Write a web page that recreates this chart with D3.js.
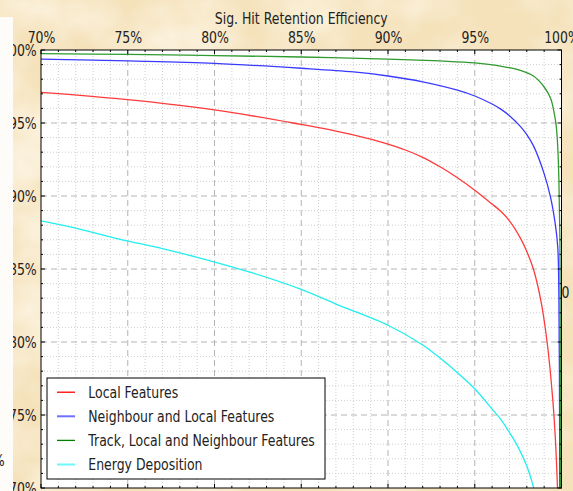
<!DOCTYPE html>
<html>
<head>
<meta charset="utf-8">
<script src="https://cdn.jsdelivr.net/npm/d3@7"></script>
<style>
  html, body { margin: 0; padding: 0; background: #f6e5c2; }
  svg { display: block; }
  text { font-family: "DejaVu Sans", sans-serif; fill: #222; }
</style>
</head>
<body>
<svg id="chart" width="573" height="491"></svg>
<script>
// Efficiency (%) vs background rejection (%) for each feature set
const localFeatures = [
  [70, 97.1], [75, 96.6], [80, 95.9], [85, 94.9], [87, 94.45], [89, 93.9],
  [90, 93.55], [91, 93.15], [92, 92.65], [93, 92.0], [94, 91.25], [95, 90.4],
  [96, 89.45], [96.5, 88.95], [97, 88.3], [97.64, 87.1], [98, 86.2],
  [98.38, 85.0], [98.8, 82.9], [99.17, 80.0], [99.5, 76.0], [99.65, 73.3],
  [99.77, 70.0]
];
const neighbourLocal = [
  [70, 99.38], [75, 99.25], [80, 99.08], [85, 98.75], [88, 98.5], [90, 98.22],
  [92, 97.82], [94, 97.25], [95, 96.85], [96, 96.3], [96.5, 95.95], [97, 95.5],
  [97.64, 94.75], [98, 94.2], [98.4, 93.4], [98.98, 91.6], [99.37, 89.9],
  [99.65, 88.0], [99.79, 86.4], [99.85, 83.0], [99.88, 78.0], [99.9, 70.0]
];
const trackLocalNeighbour = [
  [70, 99.75], [75, 99.7], [80, 99.62], [85, 99.52], [90, 99.38], [93, 99.25],
  [95, 99.12], [96.48, 98.9], [97.63, 98.6], [98.4, 98.2], [98.98, 97.5],
  [99.37, 96.7], [99.56, 95.8], [99.7, 94.75], [99.79, 93.2], [99.85, 91.1],
  [99.91, 87.0], [99.93, 80.0], [99.94, 70.0]
];
const energyDeposition = [
  [70, 88.3], [72, 87.8], [74.5, 87.05], [77, 86.4], [79, 85.8], [82, 84.8],
  [85, 83.6], [87, 82.6], [90, 81.15], [92, 79.8], [93, 78.9], [94, 77.9],
  [95, 76.8], [96, 75.4], [96.5, 74.7], [97, 73.8], [97.5, 72.8],
  [98, 71.5], [98.4, 70.0]
];

const seriesNames = [
  "Local Features",
  "Neighbour and Local Features",
  "Track, Local and Neighbour Features",
  "Energy Deposition"
];
const seriesData = [localFeatures, neighbourLocal, trackLocalNeighbour, energyDeposition];
const lineColors = ["#ff3a3a", "#3a3aff", "#2f9a2f", "#22eeee"];
const legendColors = ["#ff0000", "#6f6fff", "#008000", "#6ff8f8"];

const majorTicks = [70, 75, 80, 85, 90, 95, 100];
const minorTicks = d3.range(70, 101, 1);
const xAxisTitle = "Sig. Hit Retention Efficiency";

const svg = d3.select("#chart");
const W = 573, H = 491;
const pL = 41, pR = 561.5, pT = 50, pB = 488;
const squeeze = 0.78;   // condensed lettering

// parchment background
const defs = svg.append("defs");
const paper = defs.append("filter").attr("id", "paper")
  .attr("x", 0).attr("y", 0).attr("width", "100%").attr("height", "100%");
paper.append("feTurbulence").attr("type", "fractalNoise")
  .attr("baseFrequency", "0.011 0.014").attr("numOctaves", 4).attr("seed", 7);
paper.append("feColorMatrix").attr("type", "matrix")
  .attr("values", "0 0 0 0 1  0 0 0 0 0.97  0 0 0 0 0.9  1.6 0 0 0 -0.62");
svg.append("rect").attr("width", W).attr("height", H).attr("fill", "#f5e2bb");
svg.append("rect").attr("width", W).attr("height", H).attr("filter", "url(#paper)");

const x = d3.scaleLinear().domain([70, 100]).range([pL, pR]);
const y = d3.scaleLinear().domain([70, 100]).range([pB, pT]);

// plot area
svg.append("rect").attr("x", pL).attr("y", pT)
  .attr("width", pR - pL).attr("height", pB - pT).attr("fill", "#fff");

defs.append("clipPath").attr("id", "plotclip").append("rect")
  .attr("x", pL).attr("y", pT).attr("width", pR - pL).attr("height", pB - pT);

const grid = svg.append("g");
const minorOnly = minorTicks.filter(d => d % 5 !== 0);
// minor dotted grid
grid.selectAll(".mvx").data(minorOnly).join("line")
  .attr("x1", d => x(d)).attr("x2", d => x(d)).attr("y1", pT).attr("y2", pB)
  .attr("stroke", "#cfcfcf").attr("stroke-width", 1).attr("stroke-dasharray", "1,2");
grid.selectAll(".mhy").data(minorOnly).join("line")
  .attr("y1", d => y(d)).attr("y2", d => y(d)).attr("x1", pL).attr("x2", pR)
  .attr("stroke", "#cfcfcf").attr("stroke-width", 1).attr("stroke-dasharray", "1,2");
// major dashed grid
const inner = majorTicks.filter(d => d > 70 && d < 100);
grid.selectAll(".Mvx").data(inner).join("line")
  .attr("x1", d => x(d)).attr("x2", d => x(d)).attr("y1", pT).attr("y2", pB)
  .attr("stroke", "#b4b4b4").attr("stroke-width", 1).attr("stroke-dasharray", "6,4");
grid.selectAll(".Mhy").data(inner).join("line")
  .attr("y1", d => y(d)).attr("y2", d => y(d)).attr("x1", pL).attr("x2", pR)
  .attr("stroke", "#b4b4b4").attr("stroke-width", 1).attr("stroke-dasharray", "6,4");

// curves
const line = d3.line().x(d => x(d[0])).y(d => y(d[1])).curve(d3.curveCatmullRom.alpha(0.5));
svg.append("g").attr("clip-path", "url(#plotclip)")
  .selectAll("path").data(seriesData).join("path")
  .attr("d", line).attr("fill", "none")
  .attr("stroke", (d, i) => lineColors[i]).attr("stroke-width", 1.3);

// inward ticks on all four sides
const ticks = svg.append("g").attr("stroke", "#000").attr("stroke-width", 1);
const tickLen = d => (d % 5 === 0 ? 4 : 2);
minorTicks.forEach(d => {
  ticks.append("line").attr("x1", x(d)).attr("x2", x(d)).attr("y1", pT).attr("y2", pT + tickLen(d));
  ticks.append("line").attr("x1", x(d)).attr("x2", x(d)).attr("y1", pB).attr("y2", pB - tickLen(d));
  ticks.append("line").attr("y1", y(d)).attr("y2", y(d)).attr("x1", pL).attr("x2", pL + tickLen(d));
  ticks.append("line").attr("y1", y(d)).attr("y2", y(d)).attr("x1", pR).attr("x2", pR - tickLen(d));
});

// frame
svg.append("rect").attr("x", pL).attr("y", pT)
  .attr("width", pR - pL).attr("height", pB - pT)
  .attr("fill", "none").attr("stroke", "#000").attr("stroke-width", 1);

const fmt = d => d + "%";

// top axis labels
const topAxis = svg.append("g").attr("transform", `translate(0,${pT})`)
  .call(d3.axisTop(x).tickValues(majorTicks).tickFormat(fmt).tickSize(0).tickPadding(0));
topAxis.select(".domain").remove();
topAxis.selectAll("text")
  .attr("y", -7).attr("dy", 0)
  .attr("transform", `scale(${squeeze},1)`)
  .style("font-size", "16px").style("font-family", "DejaVu Sans, sans-serif").attr("fill", "#222");

// left axis labels
const leftAxis = svg.append("g").attr("transform", `translate(${pL},0)`)
  .call(d3.axisLeft(y).tickValues(majorTicks).tickFormat(fmt).tickSize(0).tickPadding(0));
leftAxis.select(".domain").remove();
leftAxis.selectAll("text")
  .attr("x", -5.5).attr("dy", "0.36em")
  .attr("transform", `scale(${squeeze},1)`)
  .style("font-size", "16px").style("font-family", "DejaVu Sans, sans-serif").attr("fill", "#222");

// white strip along the far left, laid over the label column
svg.append("rect").attr("x", 0).attr("y", 17).attr("width", 13).attr("height", H - 17)
  .attr("fill", "#fdfcf9");

// axis title
svg.append("text")
  .attr("transform", `translate(${(pL + pR) / 2},24) scale(${squeeze},1)`)
  .attr("text-anchor", "middle").style("font-size", "16px").text(xAxisTitle);

// stray label fragments at the edges
svg.append("text")
  .attr("transform", `translate(4.5,466) scale(${squeeze},1)`)
  .attr("text-anchor", "end").style("font-size", "16px").text("%");
svg.append("text")
  .attr("transform", `translate(561.5,298) scale(${squeeze},1)`)
  .attr("text-anchor", "start").style("font-size", "16px").text("0");

// legend
const lg = svg.append("g");
lg.append("rect").attr("x", 47).attr("y", 378).attr("width", 278).attr("height", 101)
  .attr("fill", "#fff").attr("stroke", "#000").attr("stroke-width", 1);
const rowY = i => 391.7 + i * 24.1;
seriesNames.forEach((name, i) => {
  lg.append("line").attr("x1", 57).attr("x2", 75).attr("y1", rowY(i) + 0.5).attr("y2", rowY(i) + 0.5)
    .attr("stroke", legendColors[i]).attr("stroke-width", i === 1 || i === 3 ? 2 : 1.3);
  lg.append("text")
    .attr("transform", `translate(88.3,${rowY(i) + 5.8}) scale(${squeeze},1)`)
    .style("font-size", "16px").text(name);
});
</script>
</body>
</html>
